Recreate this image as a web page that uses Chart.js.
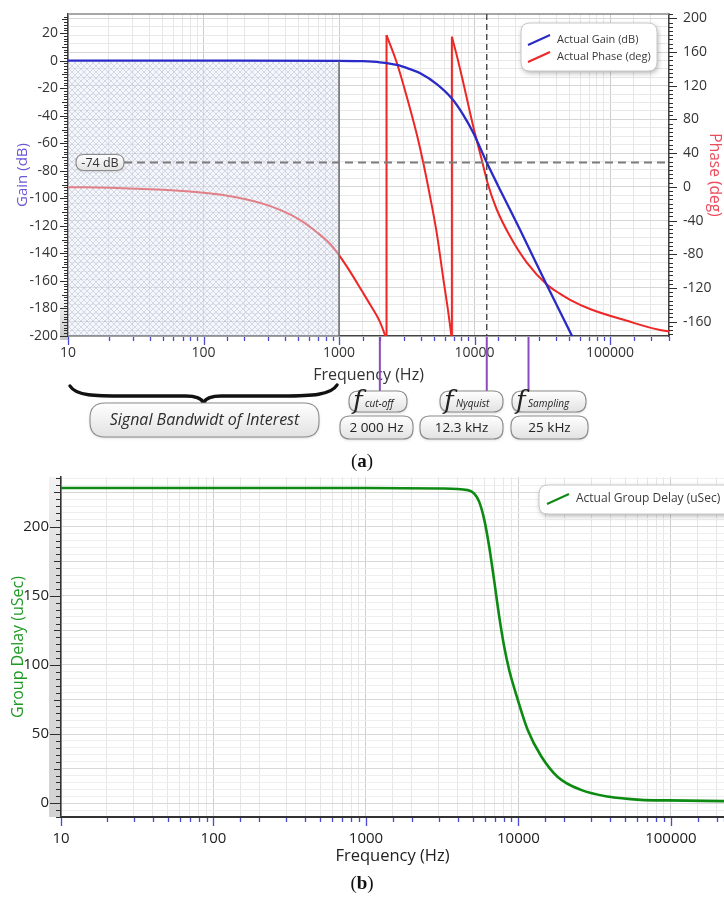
<!DOCTYPE html>
<html>
<head>
<meta charset="utf-8">
<script src="https://cdn.jsdelivr.net/npm/chart.js@4.4.1/dist/chart.umd.min.js"></script>
<style>
  html, body { margin: 0; padding: 0; background: #fff; }
  body { width: 724px; height: 902px; position: relative; overflow: hidden; }
  canvas { position: absolute; left: 0; }
  #bode { top: 0; }
  #delay { top: 470px; }
  .tag { position: absolute; left: 0; width: 724px; text-align: center; font: 19px 'Liberation Serif', 'DejaVu Serif', serif; color: #111; }
</style>
</head>
<body>
<canvas id="bode" width="724" height="455"></canvas>
<div class="tag" style="top:450px">(<b>a</b>)</div>
<canvas id="delay" width="724" height="400"></canvas>
<div class="tag" style="top:872px">(<b>b</b>)</div>
<script>
// Filter response: gain and wrapped phase against frequency
const gainFreq = [10, 100, 1000, 1500, 2000, 2670, 3300, 4000, 5260, 6800, 8270, 9800, 12300, 16300, 21700, 28800, 34100, 42800, 52700, 56000];
const gainDb = [0, 0, -0.1, -0.4, -1.2, -3.1, -6, -9.3, -17, -27.5, -39.5, -52.5, -74, -98.5, -123, -148, -163, -182.5, -200.5, -206];

const phaseFreq = [10, 20, 50, 100, 170, 300, 500, 700, 850, 1000, 1200, 1480, 1700, 2000, 2230, 2240,
  2670, 3160, 3750, 4190, 4700, 5260, 5890, 6350, 6790, 6800,
  7470, 8270, 9800, 11300, 12500, 14500, 18300, 24300, 34100, 42800, 50700, 71000, 133000, 234000, 274000];
const phaseDeg = [-0.5, -1, -3.5, -7, -12, -22, -38, -55, -67, -81, -100, -124, -140, -160, -180, 180,
  147, 107, 62, 28, -12, -55, -110, -145, -180, 178,
  153, 123, 71, 32, 4, -26, -59, -90, -116, -127, -134, -145, -159, -170, -171.5];

// Group delay
const delayFreq = [10, 1000, 3100, 4650, 5130, 5530, 5970, 6430, 6930, 7480, 8070, 8710, 9890, 11500, 14100, 18100, 25700, 38400, 63500, 96000, 223000];
const delayUs = [228, 228, 227.7, 226.5, 224, 218, 205, 185.5, 161, 135, 113, 96, 75, 53, 34, 19, 9.6, 4.8, 2.4, 2, 1.5];

// Annotations
const passBandHz = [10, 1000];
const refLevelDb = -74;
const markerHz = [2000, 12300, 25000];
const markerNames = ['cut-off', 'Nyquist', 'Sampling'];
const markerTexts = ['2 000 Hz', '12.3 kHz', '25 kHz'];
const bandText = 'Signal Bandwidt of Interest';

const FONT = "'Open Sans', 'Noto Sans', sans-serif";
const isDecade = (v) => Math.abs(Math.log10(v) - Math.round(Math.log10(v))) < 1e-9;
const toPoints = (xs, ys) => xs.map((f, i) => ({ x: f, y: ys[i] }));

// keep the chart area exactly where afterFit puts it
const noEdgePad = (s) => { s.paddingTop = 0; s.paddingBottom = 0; s.paddingLeft = 0; s.paddingRight = 0; };

const GAIN_COLOR = '#2a2ac6';
const PHASE_COLOR = '#ee2626';

// the phase wraps at +-180, split it into continuous branches
const phaseSets = [];
{
  let start = 0;
  const lineOpts = { yAxisID: 'y1', borderColor: PHASE_COLOR, borderWidth: 2, pointRadius: 0, label: 'Actual Phase (deg)' };
  for (let i = 1; i <= phaseDeg.length; i++) {
    if (i === phaseDeg.length || phaseDeg[i] > phaseDeg[i - 1]) {
      phaseSets.push({ ...lineOpts, data: toPoints(phaseFreq.slice(start, i), phaseDeg.slice(start, i)), cubicInterpolationMode: 'monotone' });
      if (i < phaseDeg.length) {
        // vertical jump at the wrap
        phaseSets.push({ ...lineOpts, data: toPoints(phaseFreq.slice(i - 1, i + 1), phaseDeg.slice(i - 1, i + 1)), tension: 0 });
      }
      start = i;
    }
  }
}

function roundPath(ctx, x, y, w, h, r) {
  ctx.beginPath();
  ctx.moveTo(x + r, y);
  ctx.lineTo(x + w - r, y);
  ctx.quadraticCurveTo(x + w, y, x + w, y + r);
  ctx.lineTo(x + w, y + h - r);
  ctx.quadraticCurveTo(x + w, y + h, x + w - r, y + h);
  ctx.lineTo(x + r, y + h);
  ctx.quadraticCurveTo(x, y + h, x, y + h - r);
  ctx.lineTo(x, y + r);
  ctx.quadraticCurveTo(x, y, x + r, y);
  ctx.closePath();
}

// grey pill used for the labels under the Bode plot
function pill(ctx, x, y, w, h, r) {
  ctx.save();
  ctx.shadowColor = 'rgba(0,0,0,0.18)';
  ctx.shadowBlur = 3;
  ctx.shadowOffsetY = 1;
  const g = ctx.createLinearGradient(0, y, 0, y + h);
  g.addColorStop(0, '#ffffff');
  g.addColorStop(1, '#e2e2e2');
  roundPath(ctx, x, y, w, h, r);
  ctx.fillStyle = g;
  ctx.fill();
  ctx.shadowColor = 'transparent';
  ctx.strokeStyle = '#8c8c8c';
  ctx.lineWidth = 1.1;
  ctx.stroke();
  ctx.restore();
}

function legendBox(ctx, x, y, w, h, items, font) {
  ctx.save();
  ctx.shadowColor = 'rgba(0,0,0,0.3)';
  ctx.shadowBlur = 5;
  ctx.shadowOffsetX = 1;
  ctx.shadowOffsetY = 2;
  roundPath(ctx, x, y, w, h, 9);
  ctx.fillStyle = '#fff';
  ctx.fill();
  ctx.shadowColor = 'transparent';
  ctx.strokeStyle = '#c8c8c8';
  ctx.lineWidth = 1;
  ctx.stroke();
  ctx.font = font;
  ctx.textBaseline = 'middle';
  items.forEach((it) => {
    ctx.strokeStyle = it.color;
    ctx.lineWidth = 2;
    ctx.beginPath();
    ctx.moveTo(it.x, it.y + 5);
    ctx.lineTo(it.x + 22, it.y - 5);
    ctx.stroke();
    ctx.fillStyle = '#3a3a3a';
    ctx.fillText(it.label, it.x + 29, it.y);
  });
  ctx.restore();
}

// small ruler-style ticks along a vertical axis
function rulerY(ctx, scale, x, dir, from, to, step, lenFor) {
  ctx.beginPath();
  for (let v = from; v <= to + 1e-9; v += step) {
    const py = Math.round(scale.getPixelForValue(v)) + 0.5;
    ctx.moveTo(x, py);
    ctx.lineTo(x + dir * lenFor(Math.round(v)), py);
  }
  ctx.stroke();
}

function ticksX(ctx, scale, y) {
  ctx.beginPath();
  scale.ticks.forEach((t) => {
    if (t.value < scale.min || t.value > scale.max) return;
    const px = Math.round(scale.getPixelForValue(t.value)) + 0.5;
    ctx.moveTo(px, y);
    ctx.lineTo(px, y + (isDecade(t.value) ? 8 : 4));
  });
  ctx.stroke();
}

function hatchPattern(ctx) {
  const c = document.createElement('canvas');
  c.width = c.height = 6;
  const g = c.getContext('2d');
  g.strokeStyle = 'rgba(130,145,190,0.38)';
  g.lineWidth = 0.8;
  g.beginPath();
  g.moveTo(0, 0); g.lineTo(6, 6);
  g.moveTo(6, 0); g.lineTo(0, 6);
  g.stroke();
  return ctx.createPattern(c, 'repeat');
}

const bodeDecor = {
  id: 'bodeDecor',
  beforeDraw(chart) {
    const { ctx, chartArea: a } = chart;
    const g = ctx.createLinearGradient(0, a.bottom - 46, 0, a.bottom);
    g.addColorStop(0, 'rgba(210,210,210,0)');
    g.addColorStop(1, '#c9c9c9');
    ctx.fillStyle = g;
    ctx.fillRect(a.left - 8, a.bottom - 46, 8, 50);
  },
  afterDatasetsDraw(chart) {
    const { ctx, chartArea: a, scales: { x, y } } = chart;
    const x0 = x.getPixelForValue(passBandHz[0]);
    const x1 = x.getPixelForValue(passBandHz[1]);
    const top = y.getPixelForValue(0) + 1.5;
    ctx.save();
    ctx.fillStyle = 'rgba(232,235,245,0.45)';
    ctx.fillRect(x0, top, x1 - x0, a.bottom - top);
    ctx.fillStyle = hatchPattern(ctx);
    ctx.fillRect(x0, top, x1 - x0, a.bottom - top);
    ctx.strokeStyle = '#6a6a6a';
    ctx.lineWidth = 1.5;
    ctx.beginPath();
    ctx.moveTo(x1, top - 1);
    ctx.lineTo(x1, a.bottom);
    ctx.stroke();
    ctx.restore();
  },
  afterDraw(chart) {
    const { ctx, chartArea: a, scales: { x, y, y1 } } = chart;
    ctx.save();

    // frame top edge
    ctx.strokeStyle = '#8a8a8a';
    ctx.lineWidth = 1.5;
    ctx.beginPath();
    ctx.moveTo(a.left, a.top);
    ctx.lineTo(a.right, a.top);
    ctx.stroke();

    // reference level
    const yRef = y.getPixelForValue(refLevelDb);
    ctx.strokeStyle = '#7c7c7c';
    ctx.lineWidth = 2;
    ctx.setLineDash([8, 5]);
    ctx.beginPath();
    ctx.moveTo(a.left + 56, yRef);
    ctx.lineTo(a.right, yRef);
    ctx.stroke();

    // Nyquist line through the plot
    const xNyq = x.getPixelForValue(markerHz[1]);
    ctx.strokeStyle = '#3a3a3a';
    ctx.lineWidth = 1.3;
    ctx.setLineDash([6, 4]);
    ctx.beginPath();
    ctx.moveTo(xNyq, a.top);
    ctx.lineTo(xNyq, a.bottom);
    ctx.stroke();
    ctx.setLineDash([]);

    pill(ctx, a.left + 8, yRef - 8, 48, 16, 8);
    ctx.fillStyle = '#333';
    ctx.font = '12.5px ' + FONT;
    ctx.textAlign = 'center';
    ctx.textBaseline = 'middle';
    ctx.fillText(refLevelDb + ' dB', a.left + 32, yRef + 0.5);
    ctx.textAlign = 'left';

    // legend
    legendBox(ctx, 521, 23, 136, 48, [
      { label: chart.data.datasets[0].label, color: GAIN_COLOR, x: 528, y: 40 },
      { label: chart.data.datasets[1].label, color: PHASE_COLOR, x: 528, y: 57 },
    ], '11px ' + FONT);

    // axis ticks
    ctx.strokeStyle = '#2e2e2e';
    ctx.lineWidth = 1;
    rulerY(ctx, y, a.left, -1, -200, 32, 2, (v) => (v % 20 === 0 ? 8 : v % 10 === 0 ? 6 : 4));
    rulerY(ctx, y1, a.right, 1, -175, 205, 5, (v) => (v % 40 === 0 ? 8 : 4));
    ctx.strokeStyle = '#4b4bd2';
    ctx.lineWidth = 1.3;
    ticksX(ctx, x, a.bottom + 1);

    // marker lines below the axis
    ctx.strokeStyle = '#8a4cc0';
    ctx.lineWidth = 2;
    ctx.beginPath();
    markerHz.forEach((f) => {
      const px = x.getPixelForValue(f);
      ctx.moveTo(px, a.bottom + 1);
      ctx.lineTo(px, 392);
    });
    ctx.stroke();

    // brace over the pass band
    const bx0 = x.getPixelForValue(passBandHz[0]) + 2;
    const bx1 = x.getPixelForValue(passBandHz[1]) - 2;
    const bm = (bx0 + bx1) / 2;
    ctx.strokeStyle = '#111';
    ctx.lineWidth = 3.4;
    ctx.lineCap = 'round';
    ctx.beginPath();
    ctx.moveTo(bx0, 386);
    ctx.bezierCurveTo(bx0 + 6, 396, bx0 + 25, 396, bx0 + 55, 396);
    ctx.lineTo(bm - 18, 396);
    ctx.bezierCurveTo(bm - 7, 396, bm - 2, 398, bm, 403);
    ctx.bezierCurveTo(bm + 2, 398, bm + 7, 396, bm + 18, 396);
    ctx.lineTo(bx1 - 55, 396);
    ctx.bezierCurveTo(bx1 - 25, 396, bx1 - 6, 395, bx1, 385);
    ctx.stroke();

    pill(ctx, 90, 403, 229, 34, 15);
    ctx.fillStyle = '#2e2e2e';
    ctx.font = 'italic 16px ' + FONT;
    ctx.textAlign = 'center';
    ctx.textBaseline = 'middle';
    ctx.fillText(bandText, 204.5, 420.5);

    const fBoxes = [[349, 58], [440, 63], [512, 74]];
    const vBoxes = [[340, 73], [420, 83], [511, 77]];
    markerHz.forEach((f, i) => {
      const [fx, fw] = fBoxes[i];
      pill(ctx, fx, 391, fw, 21, 10);
      ctx.textAlign = 'left';
      ctx.textBaseline = 'alphabetic';
      ctx.fillStyle = '#222';
      ctx.font = "italic 26px 'DejaVu Serif', serif";
      ctx.fillText('f', fx + 4, 409);
      ctx.font = 'italic 10px ' + FONT;
      ctx.fillText(markerNames[i], fx + 16, 407);

      const [vx, vw] = vBoxes[i];
      pill(ctx, vx, 416, vw, 23, 10);
      ctx.textAlign = 'center';
      ctx.textBaseline = 'middle';
      ctx.font = '13.5px ' + FONT;
      ctx.fillText(markerTexts[i], vx + vw / 2, 428);
    });
    ctx.restore();
  },
};

new Chart(document.getElementById('bode'), {
  type: 'line',
  data: {
    datasets: [
      {
        label: 'Actual Gain (dB)',
        data: toPoints(gainFreq, gainDb),
        yAxisID: 'y',
        borderColor: GAIN_COLOR,
        borderWidth: 2.3,
        pointRadius: 0,
        cubicInterpolationMode: 'monotone',
      },
      ...phaseSets,
    ],
  },
  options: {
    responsive: false,
    animation: false,
    events: [],
    layout: { padding: { top: 14, left: 0, right: 0, bottom: 0 } },
    plugins: { legend: { display: false }, tooltip: { enabled: false } },
    scales: {
      x: {
        type: 'logarithmic',
        min: 10,
        max: 272000,
        afterFit: (s) => { s.height = 119; noEdgePad(s); },
        grid: { color: (c) => (c.tick && isDecade(c.tick.value) ? '#cdcdcd' : '#e6e6e6'), drawTicks: false },
        border: { display: true, color: '#444', width: 1.5 },
        ticks: {
          autoSkip: false, maxRotation: 0, minRotation: 0, padding: 9, color: '#333',
          font: { family: FONT, size: 14 },
          callback: (v) => (isDecade(v) ? String(v) : ''),
        },
        title: { display: true, text: 'Frequency (Hz)', color: '#333', font: { family: FONT, size: 16 }, padding: { top: 0, bottom: 70 } },
      },
      y: {
        position: 'left',
        min: -200,
        max: 33.9,
        afterFit: (s) => { s.width = 68; noEdgePad(s); },
        grid: { display: false, drawTicks: false },
        border: { display: true, color: '#444', width: 1.5 },
        ticks: {
          stepSize: 20, includeBounds: false, padding: 10, color: '#333',
          font: { family: FONT, size: 14 },
          callback: (v) => (v <= 20 ? v : ''),
        },
        title: { display: true, text: 'Gain (dB)', color: '#6b58d4', font: { family: FONT, size: 15 }, padding: { top: 14, bottom: 0 } },
      },
      y1: {
        position: 'right',
        min: -177,
        max: 205.1,
        afterFit: (s) => { s.width = 55; noEdgePad(s); },
        grid: {
          drawOnChartArea: true, drawTicks: false,
          color: (c) => (c.tick && Math.round(c.tick.value) % 40 === 0 ? '#d6d6d6' : '#e8e8e8'),
        },
        border: { display: true, color: '#444', width: 1.5 },
        ticks: {
          stepSize: 10, includeBounds: false, autoSkip: false, padding: 14, color: '#333',
          font: { family: FONT, size: 14 },
          callback: (v) => (Math.round(v) % 40 === 0 ? v : ''),
        },
        title: { display: true, text: 'Phase (deg)', color: '#ec4b5c', font: { family: FONT, size: 15.5 }, padding: { top: 0, bottom: 0 } },
      },
    },
  },
  plugins: [bodeDecor],
});

const delayDecor = {
  id: 'delayDecor',
  beforeDraw(chart) {
    const { ctx, chartArea: a } = chart;
    const g = ctx.createLinearGradient(0, a.top, 0, a.bottom);
    g.addColorStop(0, '#f3f3f3');
    g.addColorStop(0.25, '#dcdcdc');
    g.addColorStop(1, '#d2d2d2');
    ctx.fillStyle = g;
    ctx.fillRect(a.left - 12, a.top, 12, a.bottom - a.top);
  },
  afterDraw(chart) {
    const { ctx, chartArea: a, scales: { x, y } } = chart;
    ctx.save();
    ctx.strokeStyle = '#2e2e2e';
    ctx.lineWidth = 1;
    rulerY(ctx, y, a.left, -1, -10, 235, 5, (v) => (v % 50 === 0 ? 11 : v % 25 === 0 ? 7 : 5));
    ctx.strokeStyle = '#4b4bd2';
    ctx.lineWidth = 1.3;
    ticksX(ctx, x, a.bottom + 1);
    const ds = chart.data.datasets[0];
    legendBox(ctx, 539, 15, 200, 29, [
      { label: ds.label, color: ds.borderColor, x: 547, y: 29 },
    ], '12px ' + FONT);
    ctx.restore();
  },
};

new Chart(document.getElementById('delay'), {
  type: 'line',
  data: {
    datasets: [
      {
        label: 'Actual Group Delay (uSec)',
        data: toPoints(delayFreq, delayUs),
        borderColor: '#0d8a12',
        borderWidth: 2.6,
        pointRadius: 0,
        cubicInterpolationMode: 'monotone',
      },
    ],
  },
  options: {
    responsive: false,
    animation: false,
    events: [],
    layout: { padding: { top: 7, left: 0, right: 0, bottom: 0 } },
    plugins: { legend: { display: false }, tooltip: { enabled: false } },
    scales: {
      x: {
        type: 'logarithmic',
        min: 10,
        max: 222800,
        afterFit: (s) => { s.height = 53; noEdgePad(s); },
        grid: { color: (c) => (c.tick && isDecade(c.tick.value) ? '#cfcfcf' : '#e6e6e6'), drawTicks: false },
        border: { display: true, color: '#333', width: 2 },
        ticks: {
          autoSkip: false, maxRotation: 0, minRotation: 0, padding: 13, color: '#222',
          font: { family: FONT, size: 15 },
          callback: (v) => (isDecade(v) ? String(v) : ''),
        },
        title: { display: true, text: 'Frequency (Hz)', color: '#222', font: { family: FONT, size: 16.5 }, padding: { top: 0, bottom: 4 } },
      },
      y: {
        min: -10,
        max: 236,
        afterFit: (s) => { s.width = 61; noEdgePad(s); },
        grid: {
          drawTicks: false,
          color: (c) => (c.tick && Math.round(c.tick.value) % 25 === 0 ? '#d8d8d8' : '#eeeeee'),
        },
        border: { display: true, color: '#333', width: 1.5 },
        ticks: {
          stepSize: 5, includeBounds: false, autoSkip: false, padding: 12, color: '#222',
          font: { family: FONT, size: 15 },
          callback: (v) => (Math.round(v) % 50 === 0 && v >= 0 && v <= 200 ? v : ''),
        },
        title: { display: true, text: 'Group Delay (uSec)', color: '#1f9a24', font: { family: FONT, size: 16 }, padding: { top: 9, bottom: 0 } },
      },
    },
  },
  plugins: [delayDecor],
});
</script>
</body>
</html>
